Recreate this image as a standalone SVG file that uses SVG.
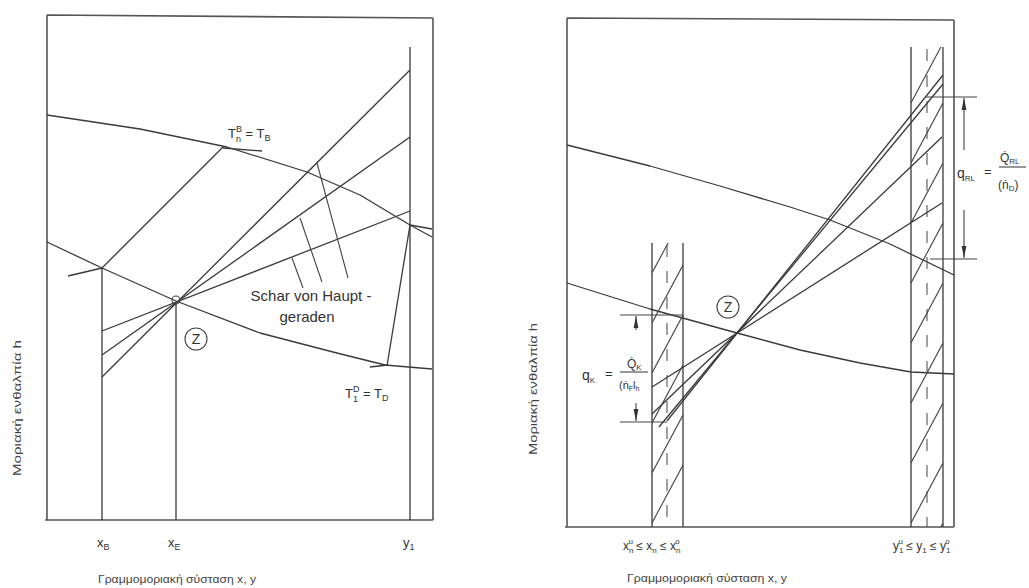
<svg xmlns="http://www.w3.org/2000/svg" width="1029" height="588" viewBox="0 0 1029 588">
<style>
.ln{stroke:#3a3a3a;stroke-width:1.3;fill:none;stroke-linejoin:round}
.fr{stroke:#555;stroke-width:1.6;fill:none}
.th{stroke:#444;stroke-width:1.1;fill:none}
.ds{stroke:#555;stroke-width:1.1;fill:none;stroke-dasharray:12 14}
.tx{font-family:"Liberation Sans",Arial,sans-serif;fill:#333}
.gk{font-family:"Liberation Sans","DejaVu Sans",sans-serif;fill:#444;font-size:11px}
</style>
<defs>
<marker id="ah" viewBox="0 0 12 6" refX="12" refY="3" markerWidth="12" markerHeight="6" orient="auto" markerUnits="userSpaceOnUse">
<path d="M12,3 L0,0.6 L0,5.4 Z" fill="#333"/>
</marker>
<clipPath id="cbL"><rect x="652" y="243" width="31" height="284"/></clipPath>
<clipPath id="cbR"><rect x="911" y="47" width="32" height="480"/></clipPath>
</defs>
<rect width="1029" height="588" fill="#fff"/>

<!-- LEFT PANEL -->
<g id="left-frame">
<path class="fr" d="M47,15 L433,18 M433,18 L433,520 M45,520 L433,520 M47,15 L47,520"/>
</g>
<g id="left-curves">
<polyline class="ln" points="47,115 140,129 227,147 307,172 360,195 410,225 432,237"/>
<polyline class="ln" points="47,242 102,268 176,301 260,333 333,352 385,365 432,369"/>
</g>
<g id="left-verticals">
<line class="ln" x1="102" y1="268" x2="102" y2="520"/>
<line class="ln" x1="176" y1="304" x2="176" y2="520"/>
<line class="ln" x1="410" y1="47" x2="410" y2="520"/>
</g>
<g id="left-connectors">
<line class="ln" x1="102" y1="377" x2="410" y2="70"/>
<line class="ln" x1="102" y1="355" x2="410" y2="137"/>
<line class="ln" x1="102" y1="331" x2="410" y2="211"/>
<line class="ln" x1="102" y1="268" x2="223" y2="147"/>
<line class="ln" x1="68" y1="276" x2="102" y2="268"/>
<line class="ln" x1="223" y1="148" x2="262" y2="151"/>
<line class="ln" x1="387" y1="366" x2="410" y2="225"/>
<line class="ln" x1="410" y1="225" x2="432" y2="229"/>
<line class="ln" x1="370" y1="367" x2="388" y2="365"/>
<line class="th" x1="292" y1="258" x2="303" y2="288"/>
<line class="th" x1="300" y1="218" x2="322" y2="282"/>
<line class="th" x1="317" y1="163" x2="348" y2="278"/>
</g>
<g id="left-Z">
<circle cx="176" cy="300" r="4" class="th"/>
<circle cx="196" cy="339" r="11" class="th"/>
<text class="tx" x="196" y="344" font-size="14" text-anchor="middle">Z</text>
</g>
<g id="left-labels">
<text class="tx" x="228" y="138" font-size="13">T<tspan font-size="9" dy="4">n</tspan><tspan font-size="9" dx="-5" dy="-10">B</tspan><tspan dy="6"> = T</tspan><tspan font-size="9" dy="3">B</tspan></text>
<text class="tx" x="345" y="398" font-size="13">T<tspan font-size="9" dy="4">1</tspan><tspan font-size="9" dx="-5" dy="-10">D</tspan><tspan dy="6"> = T</tspan><tspan font-size="9" dy="3">D</tspan></text>
<text class="tx" x="311" y="301" font-size="15" text-anchor="middle">Schar von Haupt -</text>
<text class="tx" x="307" y="322" font-size="15" text-anchor="middle">geraden</text>
<text class="tx" x="97" y="547" font-size="13">x<tspan font-size="9" dy="3">B</tspan></text>
<text class="tx" x="168" y="547" font-size="13">x<tspan font-size="9" dy="3">E</tspan></text>
<text class="tx" x="403" y="547" font-size="13">y<tspan font-size="9" dy="3">1</tspan></text>
<text class="gk" x="98" y="583" textLength="158" lengthAdjust="spacingAndGlyphs">Γραμμομοριακή σύσταση x, y</text>
<text class="gk" transform="translate(21,476) rotate(-90)" textLength="136" lengthAdjust="spacingAndGlyphs">Μοριακή ενθαλπία h</text>
</g>

<!-- RIGHT PANEL -->
<g id="right-frame">
<path class="fr" d="M567,18 L954,20 M954,20 L954,527 M565,527 L954,527 M567,18 L567,527"/>
</g>
<g id="right-curves">
<polyline class="ln" points="567,145 650,166 720,186 790,207 830,220 890,244 954,275"/>
<polyline class="ln" points="567,283 650,309 737,333 800,350 860,363 911,372 954,374"/>
</g>
<g id="left-band">
<line class="ln" x1="652" y1="243" x2="652" y2="527"/>
<line class="ln" x1="683" y1="243" x2="683" y2="527"/>
<line class="ds" x1="667" y1="245" x2="667" y2="527"/>
<g clip-path="url(#cbL)" class="th">
<line x1="652" y1="273" x2="683" y2="215"/>
<line x1="652" y1="323" x2="683" y2="265"/>
<line x1="652" y1="373" x2="683" y2="315"/>
<line x1="652" y1="423" x2="683" y2="365"/>
<line x1="652" y1="473" x2="683" y2="415"/>
<line x1="652" y1="523" x2="683" y2="465"/>
</g>
</g>
<g id="right-band">
<line class="ln" x1="911" y1="47" x2="911" y2="527"/>
<line class="ln" x1="943" y1="47" x2="943" y2="527"/>
<line class="ds" x1="927" y1="49" x2="927" y2="527"/>
<g clip-path="url(#cbR)" class="th">
<line x1="911" y1="103" x2="943" y2="43"/>
<line x1="911" y1="163" x2="943" y2="103"/>
<line x1="911" y1="223" x2="943" y2="163"/>
<line x1="911" y1="283" x2="943" y2="223"/>
<line x1="911" y1="343" x2="943" y2="283"/>
<line x1="911" y1="403" x2="943" y2="343"/>
<line x1="911" y1="463" x2="943" y2="403"/>
<line x1="911" y1="523" x2="943" y2="463"/>
<line x1="911" y1="583" x2="943" y2="523"/>
</g>
</g>
<g id="right-connectors">
<line class="ln" x1="667" y1="421" x2="943" y2="75"/>
<line class="ln" x1="659" y1="427" x2="943" y2="84"/>
<line class="ln" x1="652" y1="414" x2="942" y2="137"/>
<line class="ln" x1="652" y1="387" x2="942" y2="203"/>
</g>
<g id="qRL-bracket">
<line class="th" x1="925" y1="97" x2="977" y2="97"/>
<line class="th" x1="930" y1="259" x2="977" y2="259"/>
<line class="th" x1="964" y1="150" x2="964" y2="98" marker-end="url(#ah)"/>
<line class="th" x1="964" y1="210" x2="964" y2="258" marker-end="url(#ah)"/>
<text class="tx" x="957" y="178" font-size="14">q<tspan font-size="8" dy="3">RL</tspan></text>
<text class="tx" x="984" y="176" font-size="13">=</text>
<text class="tx" x="1000" y="162" font-size="12">Q̇<tspan font-size="8" dy="2">RL</tspan></text>
<line class="th" x1="999" y1="167" x2="1026" y2="167"/>
<text class="tx" x="998" y="189" font-size="12">(ṅ<tspan font-size="8" dy="2">D</tspan><tspan dy="-2">)</tspan></text>
</g>
<g id="qK-bracket">
<line class="th" x1="620" y1="315" x2="683" y2="315"/>
<line class="th" x1="620" y1="422" x2="667" y2="422"/>
<line class="th" x1="636" y1="330" x2="636" y2="316" marker-end="url(#ah)"/>
<line class="th" x1="636" y1="403" x2="636" y2="421" marker-end="url(#ah)"/>
<text class="tx" x="582" y="380" font-size="14">q<tspan font-size="8" dy="3">K</tspan></text>
<text class="tx" x="605" y="378" font-size="13">=</text>
<text class="tx" x="627" y="368" font-size="12">Q̇<tspan font-size="8" dy="2">K</tspan></text>
<line class="th" x1="620" y1="372" x2="648" y2="372"/>
<text class="tx" x="619" y="389" font-size="11">(ṅ<tspan font-size="7" dy="2">F</tspan><tspan dy="-2">l</tspan><tspan font-size="7" dy="2">h</tspan></text>
</g>
<g id="right-Z">
<circle cx="728" cy="307" r="11" class="th"/>
<text class="tx" x="728" y="312" font-size="14" text-anchor="middle">Z</text>
</g>
<g id="right-labels">
<text class="tx" x="623" y="550" font-size="12">x<tspan font-size="8" dy="3">n</tspan><tspan font-size="8" dx="-5" dy="-9">u</tspan><tspan dy="6"> ≤ x</tspan><tspan font-size="8" dy="3">n</tspan><tspan dy="-3"> ≤ x</tspan><tspan font-size="8" dy="3">n</tspan><tspan font-size="8" dx="-5" dy="-9">o</tspan></text>
<text class="tx" x="893" y="550" font-size="12">y<tspan font-size="8" dy="3">1</tspan><tspan font-size="8" dx="-5" dy="-9">u</tspan><tspan dy="6"> ≤ y</tspan><tspan font-size="8" dy="3">1</tspan><tspan dy="-3"> ≤ y</tspan><tspan font-size="8" dy="3">1</tspan><tspan font-size="8" dx="-5" dy="-9">o</tspan></text>
<text class="gk" x="627" y="582" textLength="160" lengthAdjust="spacingAndGlyphs">Γραμμομοριακή σύσταση x, y</text>
<text class="gk" transform="translate(537,455) rotate(-90)" textLength="132" lengthAdjust="spacingAndGlyphs">Μοριακή ενθαλπία h</text>
</g>
</svg>
